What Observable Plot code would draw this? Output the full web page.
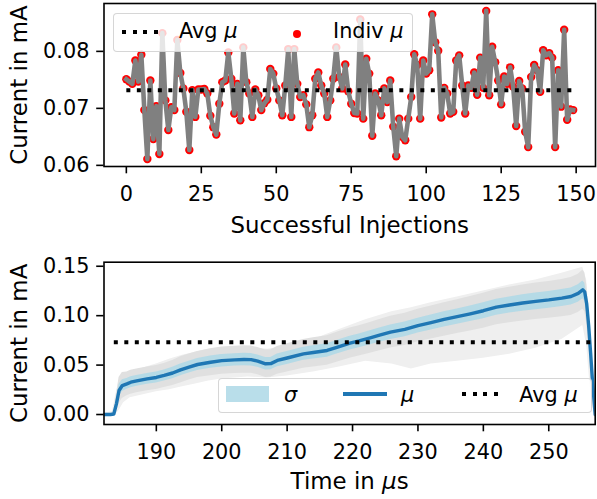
<!DOCTYPE html>
<html><head><meta charset="utf-8">
<script src="https://cdn.jsdelivr.net/npm/d3@7"></script>
<script src="https://cdn.jsdelivr.net/npm/@observablehq/plot@0.6"></script>
<style>
body{margin:0;background:#fff;font-family:"DejaVu Sans",sans-serif;}
#wrap{position:relative;width:597px;height:499px;overflow:hidden;background:#fff;}
#top,#bot{position:absolute;left:0;}
#top{top:0}#bot{top:245px}
.legbox{position:absolute;box-sizing:border-box;border:1.6px solid rgba(204,204,204,0.8);border-radius:4px;background:rgba(255,255,255,0.8);}
.lt{position:absolute;font-size:20.8px;line-height:24px;white-space:nowrap;color:#000;font-family:"DejaVu Sans",sans-serif;}
.it{font-style:italic;}
.sw{position:absolute;}
.dotted{height:4px;background:repeating-linear-gradient(to right,#000 0 4px,transparent 4px 10.5px);}
</style></head>
<body><div id="wrap"><div id="top"></div><div id="bot"></div>
<div class="legbox" style="left:113.3px;top:13.3px;width:300px;height:38.4px"></div>
<div class="sw dotted" style="left:121.7px;top:30.3px;width:37px"></div>
<div class="lt" style="left:179px;top:19.1px">Avg <span class="it">μ</span></div>
<div class="sw" style="left:293.3px;top:29.5px;width:8px;height:8px;border-radius:50%;background:red"></div>
<div class="lt" style="left:333px;top:19.1px">Indiv <span class="it">μ</span></div>
<div class="legbox" style="left:218.3px;top:378.3px;width:373.4px;height:35px"></div>
<div class="sw" style="left:226px;top:386px;width:43.3px;height:15.7px;background:lightblue;opacity:0.85"></div>
<div class="lt it" style="left:284px;top:382.5px">σ</div>
<div class="sw" style="left:343.3px;top:392.4px;width:43.4px;height:3.3px;background:#1f77b4"></div>
<div class="lt it" style="left:401px;top:382.5px">μ</div>
<div class="sw dotted" style="left:462.3px;top:392px;width:37px"></div>
<div class="lt" style="left:519.3px;top:382.5px">Avg <span class="it">μ</span></div>
</div>
<script>
// ---------- top panel data ----------
const current = [
0.0751,0.0747,0.0743,0.0784,0.0747,0.0794,0.0697,0.0611,0.0749,0.0646,
0.0704,0.0620,0.0832,0.0714,0.0662,0.0702,0.0697,0.0820,0.0762,0.0735,
0.0694,0.0627,0.0732,0.0685,0.0733,0.0733,0.0734,0.0726,0.0687,0.0667,
0.0654,0.0708,0.0746,0.0749,0.0798,0.0752,0.0691,0.0743,0.0679,0.0807,
0.0746,0.0726,0.0685,0.0733,0.0723,0.0697,0.0709,0.0715,0.0769,0.0761,
0.0735,0.0714,0.0688,0.0740,0.0804,0.0685,0.0804,0.0743,0.0720,0.0723,
0.0707,0.0667,0.0688,0.0752,0.0763,0.0740,0.0726,0.0685,0.0714,0.0752,
0.0807,0.0755,0.0735,0.0777,0.0730,0.0708,0.0692,0.0691,0.0856,0.0682,
0.0787,0.0761,0.0652,0.0726,0.0714,0.0688,0.0735,0.0711,0.0749,0.0668,
0.0616,0.0682,0.0650,0.0644,0.0682,0.0720,0.0795,0.0776,0.0682,0.0784,
0.0761,0.0767,0.0865,0.0816,0.0801,0.0684,0.0736,0.0726,0.0691,0.0694,
0.0784,0.0793,0.0740,0.0691,0.0740,0.0736,0.0763,0.0724,0.0789,0.0736,
0.0871,0.0723,0.0808,0.0781,0.0749,0.0707,0.0756,0.0743,0.0772,0.0738,
0.0669,0.0748,0.0735,0.0659,0.0632,0.0755,0.0776,0.0767,0.0729,0.0802,
0.0793,0.0797,0.0789,0.0632,0.0767,0.0703,0.0838,0.0680,0.0698,0.0697];
const avgMu = 0.0732;
const xTicksTop = [0,25,50,75,100,125,150];
const yTicksTop = [0.06,0.07,0.08];
const xLabelTop = "Successful Injections";
const yLabel = "Current in mA";

// ---------- bottom panel data ----------
const timeUs = [182,183,183.5,183.9,184.3,184.8,185.5,186.1,187,188.6,
190,191.2,192.5,193.7,195,196.3,198.3,200,202,203.4,
204.5,205.5,206.7,207.5,208.5,210,212.5,214,216.1,217.6,
219.6,221,222.7,224,225.8,228,230,232,234,236,
238,240,242,244,246,248,250,252,253.4,254.5,
255.2,255.5,255.8,256.1,256.4,256.7,257.1];
const meanMu = [0,0,0.0005,0.0108,0.0243,0.0293,0.031,0.0327,0.034,0.0361,
0.0375,0.0395,0.042,0.0452,0.048,0.0506,0.0529,0.0545,0.0553,0.0556,
0.0555,0.054,0.0513,0.0515,0.0547,0.0572,0.0614,0.0628,0.0648,0.068,
0.0722,0.0745,0.0776,0.08,0.0833,0.0862,0.09,0.093,0.0962,0.099,
0.1019,0.105,0.1086,0.1108,0.1128,0.1145,0.116,0.1178,0.1194,0.1225,
0.1262,0.124,0.112,0.09,0.062,0.032,0.0];
const sigma = [0,0,0.0005,0.004,0.006,0.006,0.0055,0.0055,0.0055,0.0055,
0.0055,0.0055,0.0058,0.006,0.006,0.006,0.0062,0.0063,0.0063,0.0063,
0.0063,0.0063,0.0063,0.0063,0.0064,0.0065,0.0066,0.0067,0.0068,0.0069,
0.007,0.007,0.0071,0.0072,0.0073,0.0074,0.0075,0.0076,0.0077,0.0078,
0.0079,0.008,0.0081,0.0082,0.0083,0.0084,0.0085,0.0086,0.0087,0.0088,
0.009,0.009,0.009,0.008,0.006,0.004,0];
// envelope of the individual (grey) traces
const envT  = [182,183.3,183.8,184.3,185,186,188,190,192,194,196,198,200,204,207,210,214,218,222,226,229,232,236,240,244,248,252,255.2,255.8,256.3,256.8,257.1];
const envHi = [0.001,0.003,0.02,0.034,0.040,0.043,0.047,0.051,0.056,0.060,0.063,0.066,0.067,0.068,0.066,0.069,0.076,0.086,0.096,0.104,0.108,0.113,0.119,0.125,0.131,0.136,0.143,0.149,0.136,0.09,0.035,0.006];
const envLo = [-0.001,-0.001,0.0,0.004,0.012,0.017,0.020,0.023,0.025,0.028,0.031,0.034,0.036,0.038,0.037,0.039,0.043,0.048,0.054,0.051,0.046,0.051,0.054,0.057,0.061,0.067,0.076,0.090,0.07,0.03,0.005,-0.001];
const avgSpanBot = [183.5, 256.6];
const xTicksBot = [190,200,210,220,230,240,250];
const yTicksBot = [0,0.05,0.10,0.15];
const xLabelBot = "Time in μs";

const tickFs = 20.8, labelFs = 22.9;
const baseStyle = {fontFamily: "DejaVu Sans", fontSize: tickFs + "px", background: "white", overflow: "visible"};
const dotted = {stroke: "black", strokeWidth: 4, strokeDasharray: "4,6.5", strokeLinecap: "butt"};

// top chart
const injections = d3.range(current.length);
const topData = injections.map(i => ({i, v: current[i]}));
const topAvg = [{i: injections[0], v: avgMu}, {i: injections[injections.length - 1], v: avgMu}];

const topChart = Plot.plot({
  width: 597, height: 245,
  marginLeft: 103.5, marginRight: 2, marginTop: 3, marginBottom: 79,
  style: baseStyle,
  x: {domain: [-7.45, 156.45]},
  y: {domain: [0.0598, 0.0884]},
  marks: [
    Plot.dot(topData, {x: "i", y: "v", r: 4.2, fill: "red"}),
    Plot.line(topData, {x: "i", y: "v", stroke: "gray", strokeWidth: 4.6, strokeLinejoin: "round", strokeLinecap: "square"}),
    Plot.line(topAvg, {x: "i", y: "v", ...dotted}),
    Plot.axisX({ticks: xTicksTop, tickSize: 7.3, tickPadding: 12.3, strokeWidth: 1.6, label: null, tickFormat: d3.format("d")}),
    Plot.axisY({ticks: yTicksTop, tickSize: 7.3, tickPadding: 7.3, strokeWidth: 1.6, label: null, tickFormat: d3.format(".2f")}),
    Plot.frame({stroke: "black", strokeWidth: 1.6}),
    Plot.text([xLabelTop], {text: d => d, frameAnchor: "bottom", dy: 66, lineAnchor: "bottom", fontSize: labelFs}),
    Plot.text([yLabel], {text: d => d, frameAnchor: "left", textAnchor: "middle", dx: -76.8, rotate: -90, lineAnchor: "bottom", fontSize: labelFs})
  ]
});
document.getElementById("top").appendChild(topChart);

// bottom chart
const muData = timeUs.map((t, k) => ({t, m: meanMu[k], s: sigma[k]}));
const envData = envT.map((t, k) => ({t, hi: envHi[k], lo: envLo[k]}));
const botAvg = avgSpanBot.map(t => ({t, v: avgMu}));

const botChart = Plot.plot({
  width: 597, height: 254,
  marginLeft: 103.5, marginRight: 2.3, marginTop: 16.7, marginBottom: 75,
  style: baseStyle,
  x: {domain: [182, 257.1]},
  y: {domain: [-0.0101, 0.1541]},
  marks: [
    Plot.areaY(envData, {x: "t", y1: "lo", y2: "hi", fill: "#efefef", clip: true}),
    Plot.areaY(muData, {x: "t", y1: d => d.m - 2.2 * d.s, y2: d => d.m + 2.2 * d.s, fill: "#e0e0e0", clip: true}),
    Plot.areaY(muData, {x: "t", y1: d => d.m - d.s, y2: d => d.m + d.s, fill: "lightblue", fillOpacity: 0.85, clip: true}),
    Plot.line(muData, {x: "t", y: "m", stroke: "#1f77b4", strokeWidth: 3.4, clip: true}),
    Plot.line(botAvg, {x: "t", y: "v", ...dotted}),
    Plot.axisX({ticks: xTicksBot, tickSize: 7.3, tickPadding: 12.9, strokeWidth: 1.6, label: null, tickFormat: d3.format("d")}),
    Plot.axisY({ticks: yTicksBot, tickSize: 7.3, tickPadding: 7.3, strokeWidth: 1.6, label: null, tickFormat: d3.format(".2f")}),
    Plot.frame({stroke: "black", strokeWidth: 1.6}),
    Plot.text([xLabelBot], {text: d => d, frameAnchor: "bottom", dy: 64.3, lineAnchor: "bottom", fontSize: labelFs}),
    Plot.text([yLabel], {text: d => d, frameAnchor: "left", textAnchor: "middle", dx: -76.8, rotate: -90, lineAnchor: "bottom", fontSize: labelFs})
  ]
});
document.getElementById("bot").appendChild(botChart);

// italic mu inside the time label
botChart.querySelectorAll("text").forEach(t => {
  if (t.textContent === xLabelBot) {
    const parts = xLabelBot.split("μ");
    const sel = d3.select(t).text(null);
    sel.append("tspan").text(parts[0]);
    sel.append("tspan").attr("font-style", "italic").text("μ");
    sel.append("tspan").text(parts[1]);
  }
});
</script>
</body></html>
